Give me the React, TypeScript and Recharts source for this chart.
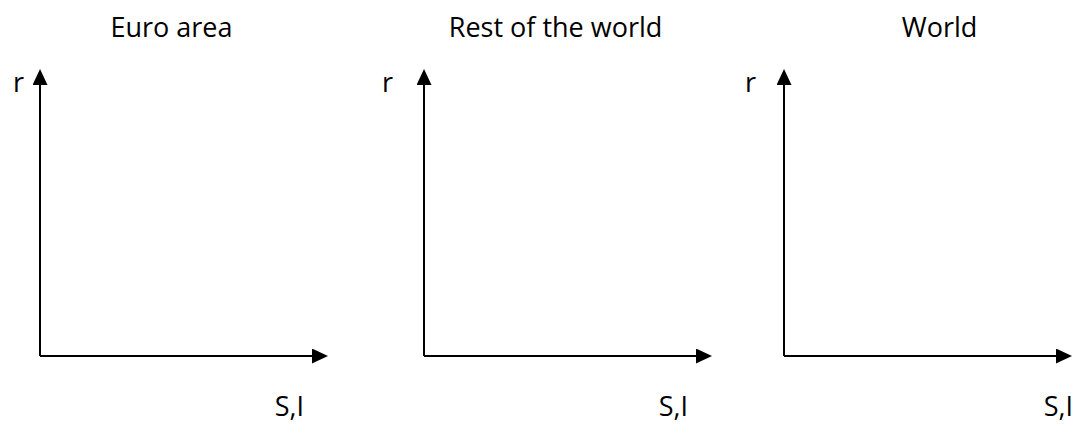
import React from 'react'
import { LineChart, XAxis, YAxis } from 'recharts'

// three blank S,I / r diagrams
const panelTitles = ['Euro area', 'Rest of the world', 'World']
const yAxisLabel = 'r'
const xAxisLabel = 'S,I'
const axisDomain: [number, number] = [0, 10]
const axisPoints = [{ si: 0, r: 0 }, { si: 10, r: 10 }]

// layout (pixels)
const W = 1075
const H = 424
const CHART_W = 360
const origins = [40, 424, 784]
const titleCenters = [171.5, 555.5, 939.5]
const rLeft = [13, 382, 745]
const siRight = [304, 688, 1073]
const FONT = '"Open Sans", sans-serif'

const Panel: React.FC<{ idx: number }> = ({ idx }) => {
  const id = `arrow-${idx}`
  return (
    <div style={{ position: 'absolute', left: origins[idx] - 40, top: 0 }}>
      <LineChart
        width={CHART_W}
        height={H}
        data={axisPoints}
        margin={{ top: 71, right: 34, bottom: 67, left: 39 }}
      >
        <defs>
          <marker
            id={id}
            viewBox="0 0 16 15"
            markerWidth={16}
            markerHeight={15}
            refX={14}
            refY={7.5}
            markerUnits="userSpaceOnUse"
            orient="auto-start-reverse"
          >
            <path d="M0,0 L16,7.5 L0,15 Z" fill="#000" />
          </marker>
        </defs>
        <XAxis
          dataKey="si"
          type="number"
          domain={axisDomain}
          height={1}
          tick={false}
          tickLine={false}
          axisLine={{ stroke: '#000', strokeWidth: 2, markerEnd: `url(#${id})` }}
        />
        <YAxis
          dataKey="r"
          type="number"
          domain={axisDomain}
          width={1}
          tick={false}
          tickLine={false}
          axisLine={{ stroke: '#000', strokeWidth: 2, markerStart: `url(#${id})` }}
        />
      </LineChart>
    </div>
  )
}

export default function App() {
  return (
    <div style={{ position: 'absolute', left: 0, top: 0, width: W, height: H, background: '#fff' }}>
      {panelTitles.map((_, i) => (
        <Panel key={i} idx={i} />
      ))}
      <svg
        width={W}
        height={H}
        style={{ position: 'absolute', left: 0, top: 0, pointerEvents: 'none' }}
        fontFamily={FONT}
        fontSize={27}
        fill="#000"
      >
        {panelTitles.map((t, i) => (
          <g key={t}>
            <text x={titleCenters[i]} y={37} textAnchor="middle">{t}</text>
            <text x={rLeft[i]} y={92}>{yAxisLabel}</text>
            <text x={siRight[i]} y={416} textAnchor="end">{xAxisLabel}</text>
          </g>
        ))}
      </svg>
    </div>
  )
}
